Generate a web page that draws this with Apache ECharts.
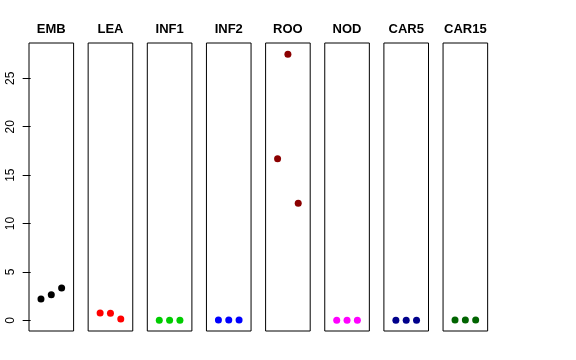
<!DOCTYPE html>
<html>
<head>
<meta charset="utf-8">
<script src="https://cdn.jsdelivr.net/npm/echarts@6/dist/echarts.min.js"></script>
<style>html,body{margin:0;padding:0;background:#fff}#c{width:576px;height:360px}</style>
</head>
<body>
<div id="c"></div>
<script>
var panelNames = ['EMB', 'LEA', 'INF1', 'INF2', 'ROO', 'NOD', 'CAR5', 'CAR15'];
var xPositions = [1, 2, 3];
var embValues = [2.2, 2.65, 3.35];
var leaValues = [0.76, 0.74, 0.14];
var inf1Values = [0.02, 0.02, 0.02];
var inf2Values = [0.03, 0.03, 0.03];
var rooValues = [16.7, 27.5, 12.1];
var nodValues = [0.01, 0.01, 0.01];
var car5Values = [0.02, 0.02, 0.02];
var car15Values = [0.03, 0.03, 0.03];
var yTickValues = [0, 5, 10, 15, 20, 25];

(function () {
var allValues = [embValues, leaValues, inf1Values, inf2Values, rooValues, nodValues, car5Values, car15Values];
var colors = ['#000000', '#FF0000', '#00CD00', '#0000FF', '#8B0000', '#FF00FF', '#00008B', '#006400'];

var left0 = 29, step = 59.15, w = 44.6, gTop = 43, gBottom = 331;
var grids = [], xAxes = [], yAxes = [], series = [], titles = [];
for (var i = 0; i < panelNames.length; i++) {
  var L = left0 + i * step;
  grids.push({left: L, top: gTop, width: w, height: gBottom - gTop, show: true,
    borderColor: '#000', borderWidth: 1, backgroundColor: 'transparent'});
  xAxes.push({type: 'value', gridIndex: i, min: -0.16, max: 4.16, show: false});
  yAxes.push({type: 'value', gridIndex: i, min: -1.1, max: 28.65,
    show: i === 0,
    splitLine: {show: false},
    axisLine: {show: false},
    axisTick: {show: i === 0, length: 8, inside: false, customValues: yTickValues,
      lineStyle: {color: '#000', width: 1}},
    axisLabel: {show: i === 0, customValues: yTickValues, rotate: 90, margin: 12,
      color: '#000', fontSize: 12, fontFamily: 'Liberation Sans, Arial, sans-serif'}
  });
  series.push({type: 'scatter', xAxisIndex: i, yAxisIndex: i,
    symbol: 'circle', symbolSize: 7,
    itemStyle: {color: colors[i], opacity: 1},
    data: xPositions.map(function (x, k) { return [x, allValues[i][k]]; }),
    silent: true, animation: false});
  titles.push({text: panelNames[i], left: L + w / 2, top: 23, textAlign: 'center', padding: 0,
    textStyle: {fontSize: 13, fontWeight: 'bold', color: '#000',
      fontFamily: 'Liberation Sans, Arial, sans-serif'}});
}

var chart = echarts.init(document.getElementById('c'), null, {renderer: 'canvas'});
chart.setOption({
  animation: false,
  backgroundColor: '#fff',
  title: titles,
  grid: grids,
  xAxis: xAxes,
  yAxis: yAxes,
  series: series
});
})();
</script>
</body>
</html>
